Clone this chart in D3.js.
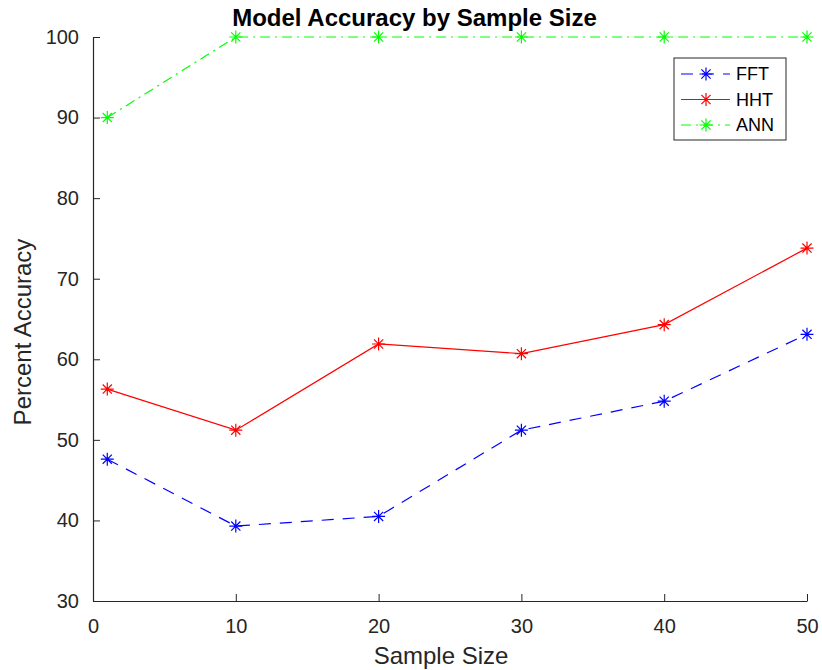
<!DOCTYPE html>
<html><head><meta charset="utf-8">
<script src="https://cdn.jsdelivr.net/npm/d3@7"></script>
<style>body{margin:0;background:#fff}svg{display:block}</style>
</head><body>
<script>
const sampleSizes = [1, 10, 20, 30, 40, 50];
const fftValues = [47.6, 39.3, 40.5, 51.2, 54.8, 63.1];
const hhtValues = [56.3, 51.2, 61.9, 60.7, 64.3, 73.8];
const annValues = [90, 100, 100, 100, 100, 100];
const xTicks = [0, 10, 20, 30, 40, 50];
const yTicks = [30, 40, 50, 60, 70, 80, 90, 100];
const seriesNames = ["FFT", "HHT", "ANN"];

const W = 822, H = 670;
const m = {left: 93, right: 15, top: 37, bottom: 69};
const svg = d3.select("body").append("svg").attr("width", W).attr("height", H);
const x = d3.scaleLinear().domain([0, 50]).range([m.left, W - m.right]);
const y = d3.scaleLinear().domain([30, 100]).range([H - m.bottom, m.top]);
const axisColor = "#262626";
const font = "Liberation Sans, Arial, Helvetica, sans-serif";

const xAxis = svg.append("g").attr("transform", `translate(0,${H - m.bottom})`)
  .call(d3.axisBottom(x).tickValues(xTicks).tickSize(-7).tickPadding(18).tickSizeOuter(0));
const yAxis = svg.append("g").attr("transform", `translate(${m.left},0)`)
  .call(d3.axisLeft(y).tickValues(yTicks).tickSize(-7).tickPadding(14).tickSizeOuter(0));
[xAxis, yAxis].forEach(g => {
  g.selectAll("path").attr("stroke", axisColor).attr("stroke-width", 1.2);
  g.selectAll("line").attr("stroke", axisColor).attr("stroke-width", 1);
  g.selectAll("text").attr("fill", axisColor).attr("font-size", 20).attr("font-family", font);
});
xAxis.selectAll("text").attr("dy", "0.71em");

const series = [
  {name: seriesNames[0], vals: fftValues, color: "#0000ff", dash: "12,9"},
  {name: seriesNames[1], vals: hhtValues, color: "#ff0000", dash: null},
  {name: seriesNames[2], vals: annValues, color: "#00ff00", dash: "10,5,2,5"}
];

function star(r) {
  const d = r * Math.SQRT1_2;
  return `M${-r},0L${r},0M0,${-r}L0,${r}M${-d},${-d}L${d},${d}M${-d},${d}L${d},${-d}`;
}

const line = d3.line().x((d, i) => x(sampleSizes[i])).y(d => y(d));
series.forEach(s => {
  svg.append("path").attr("d", line(s.vals)).attr("fill", "none")
    .attr("stroke", s.color).attr("stroke-width", 1.2)
    .attr("stroke-dasharray", s.dash);
  svg.append("g").selectAll("path").data(s.vals).join("path")
    .attr("transform", (d, i) => `translate(${x(sampleSizes[i])},${y(d)})`)
    .attr("d", star(6.5)).attr("stroke", s.color).attr("stroke-width", 1.2).attr("fill", "none");
});

// legend
const lg = svg.append("g");
lg.append("rect").attr("x", 674).attr("y", 58).attr("width", 112).attr("height", 82)
  .attr("fill", "#fff").attr("stroke", axisColor).attr("stroke-width", 1);
series.forEach((s, i) => {
  const yy = 74 + i * 25.5;
  lg.append("line").attr("x1", 681).attr("x2", 730).attr("y1", yy).attr("y2", yy)
    .attr("stroke", s.color).attr("stroke-width", 1.2).attr("stroke-dasharray", s.dash);
  lg.append("path").attr("transform", `translate(706,${yy})`).attr("d", star(6.5))
    .attr("stroke", s.color).attr("stroke-width", 1.2).attr("fill", "none");
  lg.append("text").attr("x", 736).attr("y", yy).attr("dy", "0.36em")
    .attr("font-size", 18).attr("font-family", font).attr("fill", "#000").text(s.name);
});

svg.append("text").attr("x", 414.5).attr("y", 26)
  .attr("text-anchor", "middle").attr("font-weight", "bold").attr("font-size", 24)
  .attr("font-family", font).attr("fill", "#000").text("Model Accuracy by Sample Size");
svg.append("text").attr("x", 441).attr("y", 664)
  .attr("text-anchor", "middle").attr("font-size", 24).attr("font-family", font)
  .attr("fill", axisColor).text("Sample Size");
svg.append("text").attr("transform", `translate(31,332) rotate(-90)`)
  .attr("text-anchor", "middle").attr("font-size", 24).attr("font-family", font)
  .attr("fill", axisColor).text("Percent Accuracy");
</script>
</body></html>
